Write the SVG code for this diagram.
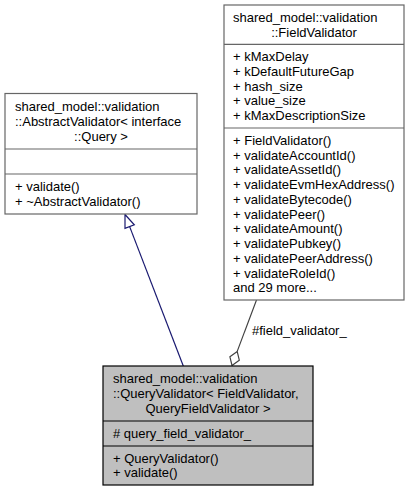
<svg xmlns="http://www.w3.org/2000/svg" width="413" height="492" viewBox="0 0 413 492">
<style>
text{font-family:"Liberation Sans",Arial,Helvetica,sans-serif;font-size:13px;fill:#000}
.c{text-anchor:middle}
.box{fill:#fff;stroke:#666;stroke-width:1.2}
.cur{fill:#bfbfbf;stroke:#000;stroke-width:1.2}
.div{stroke:#666;stroke-width:1.2}
.divc{stroke:#000;stroke-width:1.2}
.inh{stroke:#191970;stroke-width:1.2;fill:none}
.agg{stroke:#404040;stroke-width:1.2;fill:none}
</style>
<rect width="413" height="492" fill="#fff"/>
<g id="connectors">
<line class="inh" x1="183.3" y1="366" x2="129.65" y2="226.6"/>
<polygon points="125,214.5 134.3,224.8 125,228.4" fill="#fff" stroke="#191970" stroke-width="1.2"/>
<line class="agg" x1="256.5" y1="300" x2="237.2" y2="351.4"/>
<polygon points="232,365.5 239.3,360.2 237.2,351.4 229.9,356.8" fill="#fff" stroke="#404040" stroke-width="1.2"/>
<text x="252" y="335">#field_validator_</text>
</g>
<g id="abstract_validator">
<rect class="box" x="5" y="93.5" width="192" height="120.5"/>
<line class="div" x1="5" y1="149" x2="197" y2="149"/>
<line class="div" x1="5" y1="174" x2="197" y2="174"/>
<text x="15" y="111">shared_model::validation</text>
<text x="15" y="125.75">::AbstractValidator&lt; interface</text>
<text class="c" x="101" y="140.5">::Query &gt;</text>
<text x="15" y="191">+ validate()</text>
<text x="15" y="205.75">+ ~AbstractValidator()</text>
</g>
<g id="field_validator">
<rect class="box" x="224" y="5" width="180" height="295"/>
<line class="div" x1="224" y1="44.3" x2="404" y2="44.3"/>
<line class="div" x1="224" y1="128" x2="404" y2="128"/>
<text x="233" y="21.8">shared_model::validation</text>
<text class="c" x="314" y="36.5">::FieldValidator</text>
<text x="233" y="61.2">+ kMaxDelay</text>
<text x="233" y="75.9">+ kDefaultFutureGap</text>
<text x="233" y="90.7">+ hash_size</text>
<text x="233" y="105.4">+ value_size</text>
<text x="233" y="120.2">+ kMaxDescriptionSize</text>
<text x="233" y="144.75">+ FieldValidator()</text>
<text x="233" y="159.5">+ validateAccountId()</text>
<text x="233" y="174.25">+ validateAssetId()</text>
<text x="233" y="189">+ validateEvmHexAddress()</text>
<text x="233" y="203.75">+ validateBytecode()</text>
<text x="233" y="218.5">+ validatePeer()</text>
<text x="233" y="233.25">+ validateAmount()</text>
<text x="233" y="248">+ validatePubkey()</text>
<text x="233" y="262.75">+ validatePeerAddress()</text>
<text x="233" y="277.5">+ validateRoleId()</text>
<text x="233" y="292.25">and 29 more...</text>
</g>
<g id="query_validator">
<rect class="cur" x="103" y="366" width="210" height="119"/>
<line class="divc" x1="103" y1="421" x2="313" y2="421"/>
<line class="divc" x1="103" y1="446" x2="313" y2="446"/>
<text x="113" y="383.25">shared_model::validation</text>
<text x="113" y="398">::QueryValidator&lt; FieldValidator,</text>
<text class="c" x="208" y="412.75">QueryFieldValidator &gt;</text>
<text x="113" y="438"># query_field_validator_</text>
<text x="113" y="462.6">+ QueryValidator()</text>
<text x="113" y="477.35">+ validate()</text>
</g>
</svg>
